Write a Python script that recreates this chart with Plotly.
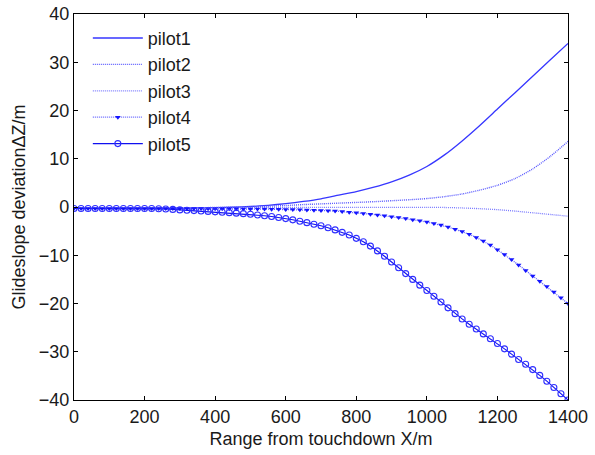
import plotly.graph_objects as go

# x positions (m)
x_line = [0, 50, 100, 150, 200, 250, 300, 350, 400, 450, 500, 550, 600, 650, 700,
          750, 800, 850, 900, 950, 1000, 1050, 1100, 1150, 1200, 1250, 1300, 1350, 1400]
x_mark = [0, 20, 40, 60, 80, 100, 120, 140, 160, 180, 200, 220, 240, 260, 280, 300,
          320, 340, 360, 380, 400, 420, 440, 460, 480, 500, 520, 540, 560, 580, 600,
          620, 640, 660, 680, 700, 720, 740, 760, 780, 800, 820, 840, 860, 880, 900,
          920, 940, 960, 980, 1000, 1020, 1040, 1060, 1080, 1100, 1120, 1140, 1160,
          1180, 1200, 1220, 1240, 1260, 1280, 1300, 1320, 1340, 1360, 1380, 1400]

pilot1 = [-0.3, -0.3, -0.3, -0.3, -0.3, -0.28, -0.25, -0.2, -0.15, -0.05, 0.1, 0.35,
          0.7, 1.15, 1.7, 2.45, 3.2, 4.1, 5.2, 6.6, 8.4, 10.8, 13.7, 16.9, 20.3, 23.7,
          27.1, 30.5, 33.9]
pilot2 = [-0.3, -0.3, -0.3, -0.3, -0.3, -0.25, -0.2, -0.15, -0.1, -0.05, 0.0, 0.15,
          0.3, 0.5, 0.65, 0.8, 0.95, 1.1, 1.3, 1.5, 1.75, 2.15, 2.7, 3.5, 4.5, 5.9, 7.9,
          10.5, 13.6]
pilot3 = [-0.3, -0.3, -0.3, -0.3, -0.3, -0.28, -0.25, -0.22, -0.2, -0.18, -0.15, -0.12,
          -0.1, -0.1, -0.08, -0.08, -0.08, -0.08, -0.08, -0.08, -0.08, -0.1, -0.2,
          -0.35, -0.55, -0.85, -1.2, -1.55, -1.9]
pilot4 = [-0.3, -0.3, -0.3, -0.3, -0.3, -0.3, -0.3, -0.3, -0.3, -0.3, -0.3, -0.3,
          -0.3, -0.3, -0.3, -0.3, -0.31, -0.32, -0.33, -0.34, -0.35, -0.36, -0.37,
          -0.38, -0.39, -0.4, -0.42, -0.44, -0.46, -0.48, -0.5, -0.53, -0.56, -0.6,
          -0.65, -0.7, -0.77, -0.85, -0.95, -1.07, -1.2, -1.34, -1.49, -1.64, -1.82,
          -2.0, -2.2, -2.4, -2.62, -2.86, -3.1, -3.4, -3.75, -4.15, -4.6, -5.1, -5.65,
          -6.3, -7.05, -7.9, -8.85, -9.85, -10.9, -12.0, -13.15, -14.3, -15.4, -16.5,
          -17.6, -18.8, -20.0]
pilot5 = [-0.3, -0.3, -0.3, -0.3, -0.3, -0.3, -0.3, -0.3, -0.3, -0.3, -0.3, -0.32,
          -0.36, -0.42, -0.5, -0.6, -0.67, -0.75, -0.83, -0.91, -1.0, -1.08, -1.17,
          -1.27, -1.38, -1.5, -1.65, -1.8, -1.97, -2.17, -2.4, -2.66, -2.94, -3.24,
          -3.56, -3.9, -4.3, -4.75, -5.25, -5.8, -6.5, -7.2, -8.1, -9.1, -10.2, -11.4,
          -12.6, -13.8, -15.0, -16.2, -17.3, -18.5, -19.7, -20.9, -22.1, -23.2, -24.3,
          -25.3, -26.3, -27.3, -28.3, -29.4, -30.5, -31.6, -32.6, -33.7, -34.9, -36.1,
          -37.4, -38.7, -40.0]

x_ticks = [0, 200, 400, 600, 800, 1000, 1200, 1400]
y_ticks = [-40, -30, -20, -10, 0, 10, 20, 30, 40]

FONT = "Liberation Sans, Arial, sans-serif"
TXT = "#1a1a1a"

fig = go.Figure()
fig.add_trace(go.Scatter(x=x_line, y=pilot1, name="pilot1", mode="lines",
                         line=dict(color="#3636ff", width=1.3, shape="spline",
                                   smoothing=0.6)))
fig.add_trace(go.Scatter(x=x_line, y=pilot2, name="pilot2", mode="lines",
                         line=dict(color="#5c5cff", width=1.4, dash="1px,1px",
                                   shape="spline", smoothing=0.6)))
fig.add_trace(go.Scatter(x=x_line, y=pilot3, name="pilot3", mode="lines",
                         line=dict(color="#7d7dff", width=1.3, dash="1px,1px",
                                   shape="spline", smoothing=0.6)))
fig.add_trace(go.Scatter(x=x_mark, y=pilot4, name="pilot4", mode="lines+markers",
                         line=dict(color="#6262ff", width=1.3, dash="1px,1px"),
                         marker=dict(symbol="triangle-down", size=5, color="#1414ff")))
fig.add_trace(go.Scatter(x=x_mark, y=pilot5, name="pilot5", mode="lines+markers",
                         line=dict(color="#1010f0", width=1.1),
                         marker=dict(symbol="circle-open", size=6, color="#2e2eff",
                                     line=dict(width=1.1))))

axis_common = dict(showline=True, linecolor="black", linewidth=1.2, mirror="ticks",
                   ticks="inside", ticklen=4, tickcolor="black", showgrid=False,
                   zeroline=False, automargin=False,
                   tickfont=dict(family=FONT, size=18, color=TXT))

fig.update_layout(
    width=595, height=455,
    margin=dict(l=74, r=27, t=14, b=55),
    paper_bgcolor="white", plot_bgcolor="white",
    font=dict(family=FONT, size=18, color=TXT),
    xaxis=dict(range=[0, 1400], tickvals=x_ticks,
               title=dict(text="Range from touchdown X/m", standoff=6,
                          font=dict(family=FONT, size=18, color=TXT)),
               **axis_common),
    yaxis=dict(range=[-40, 40], tickvals=y_ticks,
               title=dict(text="Glideslope deviation\u0394Z/m", standoff=8,
                          font=dict(family=FONT, size=18, color=TXT)),
               **axis_common),
    legend=dict(x=0.028, y=0.985, xanchor="left", yanchor="top",
                bgcolor="rgba(0,0,0,0)", borderwidth=0, itemwidth=50,
                font=dict(family=FONT, size=18, color=TXT),
                tracegroupgap=0),
    showlegend=True,
)

fig.write_html("out.html",
               config={"displayModeBar": False},
               post_script="document.body.style.margin='0';"
                           "document.body.style.overflow='hidden';")
